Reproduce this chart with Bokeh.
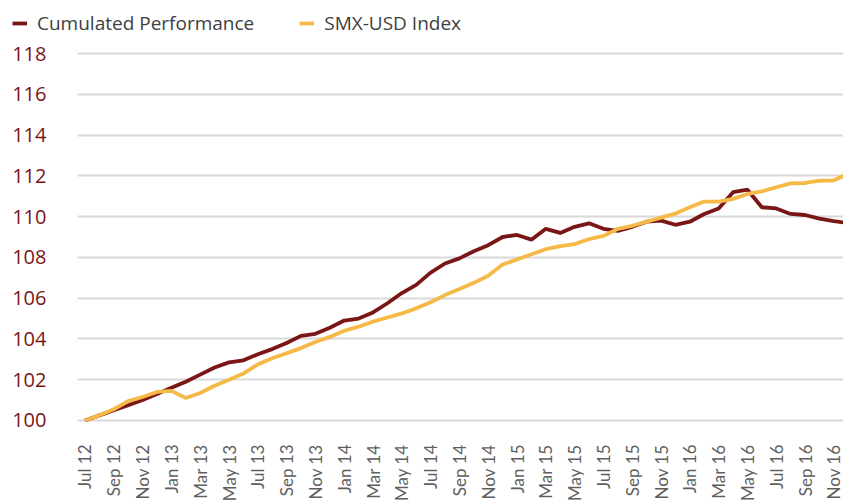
from bokeh.plotting import figure
from bokeh.models import Range1d, FixedTicker, Legend, LegendItem
from bokeh.layouts import column
from bokeh.embed import file_html
from bokeh.resources import INLINE
import math

# ---- data (monthly, Jul 12 .. Dec 16) ----
cumulated_performance = [
    100.0, 100.25, 100.5, 100.75, 101.0, 101.3, 101.6, 101.9, 102.25, 102.6,
    102.85, 102.95, 103.25, 103.5, 103.8, 104.15, 104.25, 104.55, 104.9, 105.0,
    105.3, 105.75, 106.25, 106.65, 107.25, 107.7, 107.95, 108.3, 108.6, 109.0,
    109.1, 108.87, 109.4, 109.2, 109.5, 109.67, 109.4, 109.3, 109.5, 109.75,
    109.8, 109.6, 109.75, 110.13, 110.4, 111.2, 111.32, 110.46, 110.4, 110.13,
    110.08, 109.9, 109.78, 109.68,
]
smx_usd_index = [
    100.0, 100.25, 100.55, 100.95, 101.15, 101.4, 101.45, 101.1, 101.35, 101.7,
    102.0, 102.3, 102.75, 103.05, 103.3, 103.55, 103.85, 104.1, 104.4, 104.6,
    104.85, 105.05, 105.25, 105.5, 105.8, 106.15, 106.45, 106.75, 107.1, 107.65,
    107.9, 108.15, 108.4, 108.55, 108.65, 108.9, 109.05, 109.4, 109.55, 109.75,
    109.95, 110.15, 110.46, 110.74, 110.74, 110.87, 111.11, 111.24, 111.44, 111.63,
    111.65, 111.76, 111.78, 112.1,
]
tick_labels = [
    "Jul 12", "Sep 12", "Nov 12", "Jan 13", "Mar 13", "May 13", "Jul 13",
    "Sep 13", "Nov 13", "Jan 14", "Mar 14", "May 14", "Jul 14", "Sep 14",
    "Nov 14", "Jan 15", "Mar 15", "May 15", "Jul 15", "Sep 15", "Nov 15",
    "Jan 16", "Mar 16", "May 16", "Jul 16", "Sep 16", "Nov 16",
]
y_ticks = [100, 102, 104, 106, 108, 110, 112, 114, 116, 118]
series_names = ["Cumulated Performance", "SMX-USD Index"]

RED = "#7a1616"
YELLOW = "#f5b947"
LW = 3.8

xs = list(range(len(cumulated_performance)))
tick_pos = [2 * i for i in range(len(tick_labels))]

# ---- legend strip on top (its lines lie outside its view; only the legend shows) ----
leg = figure(width=843, height=40, output_backend="svg", toolbar_location=None,
             x_axis_type=None, y_axis_type=None,
             x_range=Range1d(-10, -9), y_range=Range1d(0, 1),
             min_border_left=0, min_border_right=0, min_border_top=0,
             min_border_bottom=0)
leg.outline_line_color = None
leg.xgrid.grid_line_color = None
leg.ygrid.grid_line_color = None
d1 = leg.line(xs, cumulated_performance, line_color=RED, line_width=LW)
d2 = leg.line(xs, smx_usd_index, line_color=YELLOW, line_width=LW)
legend = Legend(items=[LegendItem(label=series_names[0], renderers=[d1]),
                       LegendItem(label=series_names[1], renderers=[d2])],
                orientation="horizontal", location=(12, 4),
                padding=0, margin=0, spacing=45, label_standoff=10,
                glyph_width=15, glyph_height=20,
                label_text_font="Open Sans", label_text_font_size="19px",
                label_text_color="#404040",
                border_line_alpha=0, background_fill_alpha=0)
leg.add_layout(legend, "center")

# ---- main chart ----
p = figure(width=843, height=464, output_backend="svg", toolbar_location=None,
           x_range=Range1d(-0.52, 52.67), y_range=Range1d(99.9, 118.1),
           min_border_left=77, min_border_right=0, min_border_top=11,
           min_border_bottom=82)
p.outline_line_color = None
p.background_fill_color = "white"

p.line(xs, cumulated_performance, line_color=RED, line_width=LW)
p.line(xs, smx_usd_index, line_color=YELLOW, line_width=LW)

p.xaxis.ticker = FixedTicker(ticks=tick_pos)
p.xaxis.major_label_overrides = {t: l for t, l in zip(tick_pos, tick_labels)}
p.xaxis.major_label_orientation = math.pi / 2
p.xaxis.axis_line_color = None
p.xaxis.major_tick_line_color = None
p.xaxis.minor_tick_line_color = None
p.xaxis.major_tick_out = 0
p.xaxis.major_tick_in = 0
p.xaxis.major_label_standoff = 22
p.xaxis.major_label_text_font = "Lato"
p.xaxis.major_label_text_font_size = "17px"
p.xaxis.major_label_text_color = "#5f5f5f"
p.xgrid.grid_line_color = None

p.yaxis.ticker = FixedTicker(ticks=y_ticks)
p.yaxis.axis_line_color = None
p.yaxis.major_tick_line_color = None
p.yaxis.minor_tick_line_color = None
p.yaxis.major_tick_out = 0
p.yaxis.major_tick_in = 0
p.yaxis.major_label_standoff = 31
p.yaxis.major_label_text_font = "Open Sans"
p.yaxis.major_label_text_font_size = "20px"
p.yaxis.major_label_text_color = RED
p.ygrid.grid_line_color = "#d9d9d9"
p.ygrid.grid_line_width = 2

layout = column(column(leg), p, spacing=0)
open("out.html", "w").write(file_html(layout, INLINE))
